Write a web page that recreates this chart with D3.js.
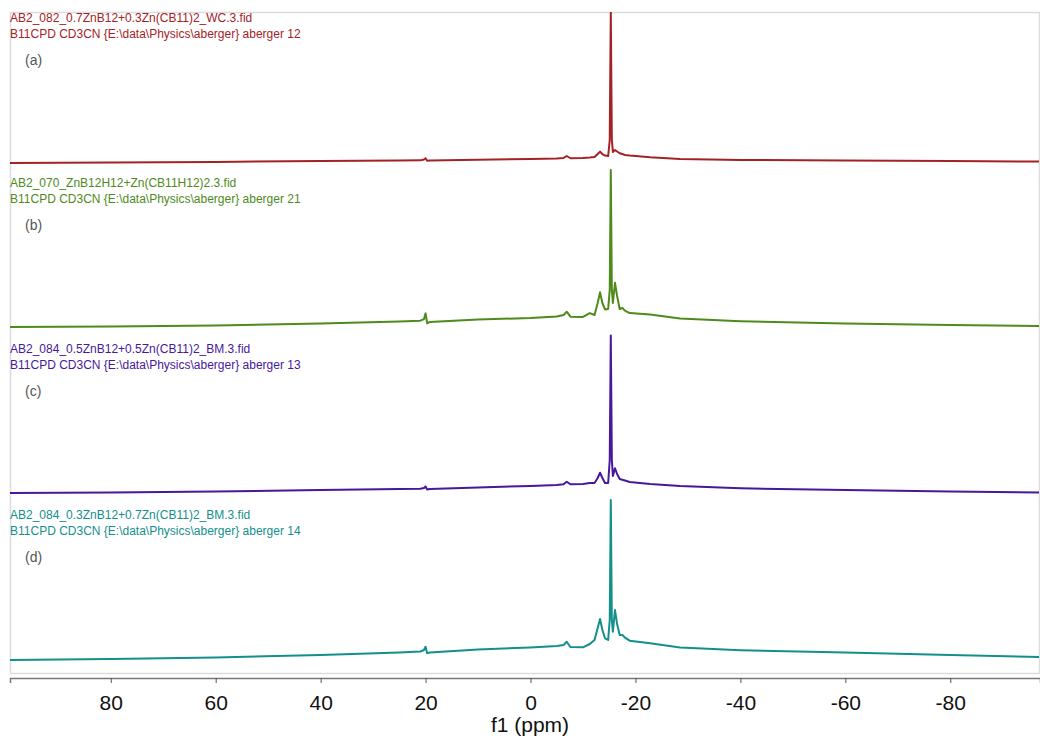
<!DOCTYPE html>
<html><head><meta charset="utf-8">
<script src="https://cdn.jsdelivr.net/npm/d3@7"></script>
<style>
html,body{margin:0;padding:0;background:#fff;}
svg{display:block;}
</style></head>
<body>
<svg id="chart" width="1040" height="739"></svg>
<script>
// ---- data ----
const ppm = [99.2, 80, 60, 40, 25, 21, 20.3, 20.0, 19.7, 19.2, 10, 0, -5, -6.3, -6.9, -7.6, -10, -11.3, -12.2, -12.8,
  -13.25, -13.7, -14.2, -14.8, -15.1, -15.3, -15.5, -15.7, -16.1, -16.5, -17.0, -17.5, -18.0, -18.9, -22.8, -28.5, -40, -60, -80, -97.1];
const intensityA = [1.3,1.7,2,2.7,3,3.1,3.7,4.5,2.8,3,3.5,4,4.3,4.7,6,4.5,4.7,5,5.3,7.3,8.9,7.3,6.3,6,16.7,102,16.7,8.7,10,9,7.8,7.3,6.7,6.3,5.1,4.0,3.4,3,2.7,2.3];
const intensityB = [2,2.3,3,4.3,5.7,6.2,7.3,11.1,4.5,5.3,7,8,9,10,12.2,8.9,8.7,11.3,10,18,25.1,18,13.7,14,26.7,106.7,26.7,18,31.5,22.7,14,14.7,12.9,11.3,10.3,7.6,5.9,4.3,3.3,2.7];
const intensityC = [2,2.3,3,4,4.7,4.8,5.3,6.3,4.3,4.7,5.7,6.7,7.3,7.8,9.5,7.8,8,8.7,8.7,12,15.5,12,8.7,8.7,24,107,24,13.3,18.5,14.7,11.3,10.8,10.3,9.3,8,6.6,5.1,4,3,2.3];
const intensityD = [1.3,2,3,4.7,6.3,7,8,10.2,5.8,6.3,8.3,9.7,10.7,11.3,13.5,10,9.8,12,14.7,22.7,28.7,21.3,15.8,14.7,28,108,28,20.2,34.7,25.3,18,18,16.3,14.2,12.5,9.6,7.9,6.3,4.7,3.3];
const fileNames = [
  "AB2_082_0.7ZnB12+0.3Zn(CB11)2_WC.3.fid",
  "AB2_070_ZnB12H12+Zn(CB11H12)2.3.fid",
  "AB2_084_0.5ZnB12+0.5Zn(CB11)2_BM.3.fid",
  "AB2_084_0.3ZnB12+0.7Zn(CB11)2_BM.3.fid"
];
const expNames = [
  "B11CPD CD3CN {E:\\data\\Physics\\aberger} aberger 12",
  "B11CPD CD3CN {E:\\data\\Physics\\aberger} aberger 21",
  "B11CPD CD3CN {E:\\data\\Physics\\aberger} aberger 13",
  "B11CPD CD3CN {E:\\data\\Physics\\aberger} aberger 14"
];
const panelTags = ["(a)", "(b)", "(c)", "(d)"];
const tickValues = [80, 60, 40, 20, 0, -20, -40, -60, -80];
const xDomain = [99.2, -97.1];
const axisTitle = "f1 (ppm)";

// ---- layout/styles ----
const colors = ["#a32226", "#4e8a1c", "#48189a", "#138f8c"];
const zeros = [165, 330, 496, 662];
const frame = {x0: 10, y0: 12, x1: 1039, y1: 673};
const axisY = 678;
const font = "Liberation Sans, Arial, sans-serif";

const svg = d3.select("#chart");
const x = d3.scaleLinear().domain(xDomain).range([10, 1040]);

svg.append("defs").append("clipPath").attr("id", "clip")
  .append("rect").attr("x", frame.x0).attr("y", frame.y0)
  .attr("width", frame.x1 - frame.x0).attr("height", frame.y1 - frame.y0);

// frame
svg.append("rect").attr("x", frame.x0 + 0.5).attr("y", frame.y0 + 0.5)
  .attr("width", frame.x1 - frame.x0).attr("height", frame.y1 - frame.y0)
  .attr("fill", "none").attr("stroke", "#dcdcdc").attr("stroke-width", 1.5);

const series = [intensityA, intensityB, intensityC, intensityD];
const plot = svg.append("g").attr("clip-path", "url(#clip)");

series.forEach((vals, i) => {
  const y = d3.scaleLinear().domain([0, 100]).range([zeros[i], zeros[i] - 150]);
  const pts = ppm.map((p, k) => [p, vals[k]]);
  const line = d3.line().x(d => x(d[0])).y(d => y(d[1]));
  plot.append("path").datum(pts)
    .attr("d", line)
    .attr("fill", "none")
    .attr("stroke", colors[i])
    .attr("stroke-width", 2)
    .attr("stroke-linejoin", "round");

  const top = zeros[i] - 147;
  svg.append("text").attr("x", 10).attr("y", top + 4)
    .attr("font-family", font).attr("font-size", 12)
    .attr("fill", colors[i]).text(fileNames[i]);
  svg.append("text").attr("x", 10).attr("y", top + 20)
    .attr("font-family", font).attr("font-size", 12)
    .attr("fill", colors[i]).text(expNames[i]);
  svg.append("text").attr("x", 25).attr("y", top + 47)
    .attr("font-family", font).attr("font-size", 14)
    .attr("fill", "#555").text(panelTags[i]);
});

// axis
const axis = d3.axisBottom(x).tickValues(tickValues).tickSize(5).tickPadding(12).tickFormat(d => String(d));
const gAxis = svg.append("g").attr("transform", `translate(0,${axisY})`).call(axis);
gAxis.select(".domain").attr("stroke", "#777").attr("stroke-width", 1.5);
gAxis.selectAll(".tick line").attr("stroke", "#555");
gAxis.selectAll(".tick text").attr("font-family", font)
  .attr("font-size", 21).attr("fill", "#111");

svg.append("text").attr("x", 530).attr("y", 732).attr("text-anchor", "middle")
  .attr("font-family", font).attr("font-size", 21)
  .attr("fill", "#111").text(axisTitle);
</script>
</body></html>
